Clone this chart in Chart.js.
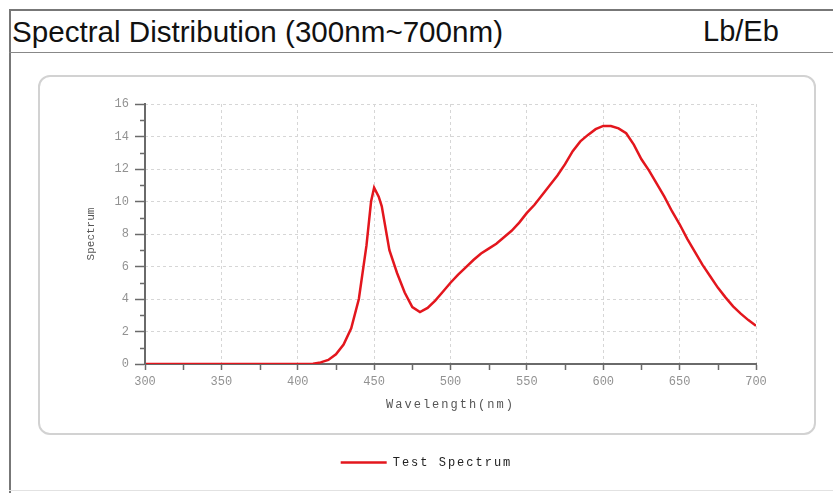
<!DOCTYPE html>
<html>
<head>
<meta charset="utf-8">
<script src="https://cdn.jsdelivr.net/npm/chart.js@4"></script>
<style>
    html, body { margin: 0; padding: 0; background: #fff; }
    body { width: 833px; height: 493px; position: relative; overflow: hidden; font-family: "Liberation Sans", Arial, sans-serif; }
    .rule { position: absolute; background: #777; }
    .head { position: absolute; top: 17px; font-size: 29px; line-height: 29px; color: #111; white-space: nowrap; }
    .panel { position: absolute; left: 38px; top: 75px; width: 774px; height: 356px; border: 2px solid #d2d2d2; border-radius: 12px; }
    #wrap { position: absolute; left: 38px; top: 75px; width: 777px; height: 410px; }
</style>
</head>
<body>
<div class="rule" style="left:9px; top:9px; width:824px; height:2px;"></div>
<div class="rule" style="left:9px; top:9px; width:2px; height:484px;"></div>
<div class="rule" style="left:9px; top:52px; width:824px; height:1px; background:#888;"></div>
<div class="rule" style="left:9px; top:490px; width:824px; height:1px; background:#e2e2e2;"></div>
<div class="head" style="left:12px; font-size:29.6px;">Spectral Distribution (300nm~700nm)</div>
<div class="head" style="left:703px;">Lb/Eb</div>
<div class="panel"></div>
<div id="wrap"><canvas id="chart-spectrum"></canvas></div>

<script>
// wavelength samples (nm) and relative spectral power
const wavelengths = [
    300, 305, 310, 315, 320, 325, 330, 335, 340, 345, 350, 355, 360, 365, 370, 375,
    380, 385, 390, 395, 400, 405, 410, 415, 420, 425, 430, 435, 440, 445, 448, 450,
    453, 455, 460, 465, 470, 475, 480, 485, 490, 495, 500, 505, 510, 515, 520, 525,
    530, 535, 540, 545, 550, 555, 560, 565, 570, 575, 580, 585, 590, 595, 600, 605,
    610, 615, 620, 625, 630, 635, 640, 645, 650, 655, 660, 665, 670, 675, 680, 685,
    690, 695, 700,
];
const spectrum = [
    0, 0, 0, 0, 0, 0, 0, 0, 0, 0, 0, 0, 0, 0, 0, 0,
    0, 0, 0, 0, 0, 0, 0.02, 0.1, 0.25, 0.6, 1.2, 2.2, 4.0, 7.3, 10.0, 10.85,
    10.3, 9.7, 7.0, 5.6, 4.4, 3.5, 3.2, 3.45, 3.9, 4.45, 5.0, 5.5, 5.95, 6.4, 6.8, 7.1,
    7.4, 7.8, 8.2, 8.7, 9.3, 9.8, 10.4, 11.0, 11.6, 12.3, 13.1, 13.7, 14.1, 14.45, 14.65, 14.65,
    14.5, 14.2, 13.5, 12.6, 11.9, 11.1, 10.3, 9.4, 8.6, 7.7, 6.9, 6.1, 5.4, 4.7, 4.1, 3.55,
    3.1, 2.7, 2.35,
];

const xMin = 300, xMax = 700, xStep = 50;
const yMin = 0, yMax = 16, yStep = 2;

const AXIS = "#6a6a6a";
const GRID = "#d6d6d6";
const TICK_TEXT = "#929292";
const MONO = "'Liberation Mono', 'DejaVu Sans Mono', monospace";

// The x title and legend text are drawn wide-spaced; everything painted
// after the datasets (tick labels, y axis title) goes back to normal spacing.
const spacing = {
    id: "spacing",
    beforeLayout(chart) { chart.ctx.letterSpacing = "2px"; },
    beforeDraw(chart) { chart.ctx.letterSpacing = "2px"; },
    beforeDatasetsDraw(chart) { chart.ctx.letterSpacing = "0px"; },
};

// short ticks halfway between the labelled ones
const minorTicks = {
    id: "minorTicks",
    afterDraw(chart) {
        const { ctx, scales: { x, y } } = chart;
        ctx.save();
        ctx.strokeStyle = AXIS;
        ctx.lineWidth = 1.5;
        ctx.beginPath();
        for (let v = xMin + xStep / 2; v < xMax; v += xStep) {
            const px = Math.round(x.getPixelForValue(v)) + 0.5;
            ctx.moveTo(px, x.top);
            ctx.lineTo(px, x.top + 6);
        }
        for (let v = yMin + yStep / 2; v < yMax; v += yStep) {
            const py = Math.round(y.getPixelForValue(v)) + 0.5;
            ctx.moveTo(y.right - 5, py);
            ctx.lineTo(y.right, py);
        }
        ctx.stroke();
        ctx.restore();
    },
};

const points = wavelengths.map((w, i) => ({ x: w, y: spectrum[i] }));

new Chart(document.getElementById("chart-spectrum"), {
    type: "line",
    data: {
        datasets: [{
            label: "Test Spectrum",
            data: points,
            borderColor: "#e3161d",
            backgroundColor: "#e3161d",
            borderWidth: 2.5,
            pointRadius: 0,
            tension: 0,
            fill: false,
        }],
    },
    options: {
        responsive: true,
        maintainAspectRatio: false,
        animation: false,
        layout: { padding: { top: 29, right: 0, bottom: 6.5, left: 0 } },
        plugins: {
            tooltip: { enabled: false },
            legend: {
                position: "bottom",
                labels: {
                    usePointStyle: true,
                    pointStyle: "line",
                    pointStyleWidth: 46,
                    color: "#222",
                    font: { family: MONO, size: 12 },
                    padding: 10,
                },
            },
        },
        scales: {
            x: {
                type: "linear",
                min: xMin, max: xMax,
                ticks: { stepSize: xStep, color: TICK_TEXT, font: { family: MONO, size: 12 }, padding: 5, maxRotation: 0, z: 1 },
                grid: { color: GRID, tickColor: AXIS, tickLength: 6, tickWidth: 1.5, z: -1 },
                border: { color: AXIS, width: 2, dash: [3, 3] },
                title: { display: true, text: "Wavelength(nm)", color: "#555", font: { family: MONO, size: 12 }, padding: { bottom: 34 } },
                afterFit(scale) { scale.height = 82.5; },
            },
            // dashed horizontal grid lines, painted under the curve
            yGrid: {
                position: "left",
                min: yMin, max: yMax,
                ticks: { stepSize: yStep, display: false },
                grid: { color: GRID, drawTicks: false, z: -1 },
                border: { display: false, dash: [3, 3] },
                afterFit(scale) { scale.width = 0; },
            },
            y: {
                position: "left",
                min: yMin, max: yMax,
                ticks: { stepSize: yStep, color: TICK_TEXT, font: { family: MONO, size: 12 }, padding: 6, z: 1 },
                grid: { drawOnChartArea: false, tickColor: AXIS, tickLength: 10, tickWidth: 1.5, z: 1 },
                border: { color: AXIS, width: 2, z: 1 },
                title: { display: true, text: "Spectrum", color: "#555", font: { family: MONO, size: 11 }, padding: { top: 46 } },
                afterFit(scale) { scale.width = 107; },
            },
            // empty band on the right so the legend centres on the whole panel
            yRight: {
                position: "right",
                min: yMin, max: yMax,
                ticks: { display: false },
                grid: { display: false },
                border: { display: false },
                afterFit(scale) { scale.width = 59; },
            },
        },
    },
    plugins: [spacing, minorTicks],
});
</script>
</body>
</html>
